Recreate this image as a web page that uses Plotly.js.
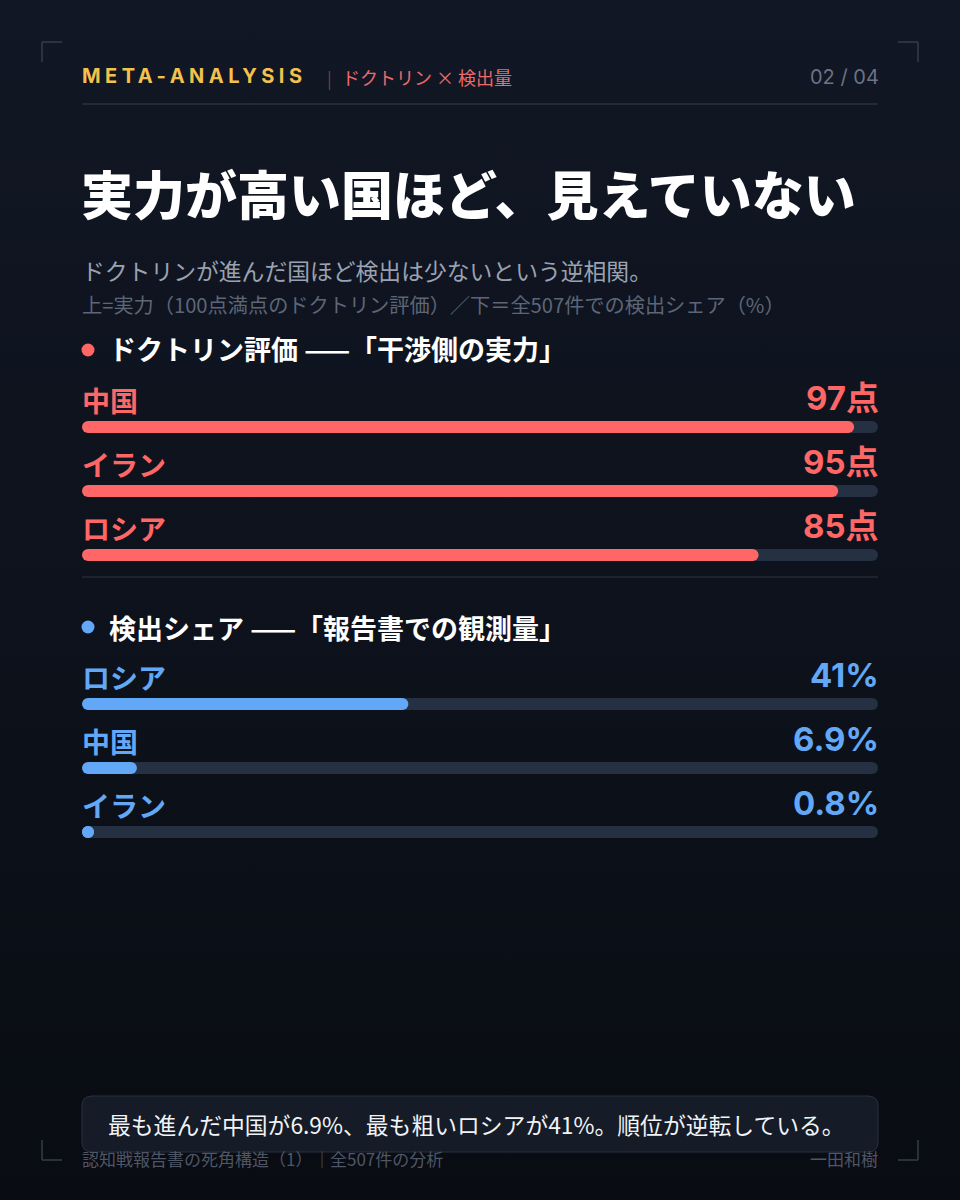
<!DOCTYPE html>
<html><head><meta charset="utf-8">
<script src="https://cdn.plot.ly/plotly-3.0.1.min.js"></script>
<style>
html,body{margin:0;padding:0;width:960px;height:1200px;overflow:hidden;
background:linear-gradient(180deg,#111724 0%,#0d121c 50%,#090c12 100%);}
#chart{width:960px;height:1200px;}
</style></head>
<body><div id="chart"></div>
<script>
// ---- data ----
const doctrineCountries = ['中国', 'イラン', 'ロシア'];
const doctrineScores = [97, 95, 85];
const doctrineUnit = '点';
const shareCountries = ['ロシア', '中国', 'イラン'];
const shareValues = [41, 6.9, 0.8];
const shareUnit = '%';
const scaleMax = 100;

const headerLabel = 'META-ANALYSIS';
const headerTopic = 'ドクトリン × 検出量';
const pageLabel = '02 / 04';
const titleText = '実力が高い国ほど、見えていない';
const subtitleText = 'ドクトリンが進んだ国ほど検出は少ないという逆相関。';
const noteText = '上=実力（100点満点のドクトリン評価）／下＝全507件での検出シェア（%）';
const section1Title = 'ドクトリン評価 ——「干渉側の実力」';
const section2Title = '検出シェア ——「報告書での観測量」';
const calloutText = '最も進んだ中国が6.9%、最も粗いロシアが41%。順位が逆転している。';
const footerLeft = '認知戦報告書の死角構造（1）';
const footerMid = '全507件の分析';
const footerRight = '一田和樹';

// ---- styles ----
const W = 960, H = 1200;
const RED = '#ff6666', BLUE = '#62a8f7', TRACK = '#263043';
const JP = '"Noto Sans CJK JP", sans-serif';
const NUM = 'Inter, "Noto Sans CJK JP", sans-serif';
const px = x => x / W;
const py = y => 1 - y / H;
const PLOT_L = 82, PLOT_R = 878, ROW = 64, BAR_PX = 12;
const BARW = BAR_PX / ROW;
const rU = (BAR_PX / 2) / (PLOT_R - PLOT_L) * scaleMax; // cap radius in data units

const barTraces = [], capTraces = [];
function roundBar(cats, vals, color, yaxis, leftCap) {
  barTraces.push({type:'bar', orientation:'h', y:cats, base:cats.map(()=>rU),
    x:vals.map(v=>Math.max(v - 2*rU, 0)), width:BARW, yaxis:yaxis, xaxis:'x',
    marker:{color:color, line:{width:0}}, hoverinfo:'skip', showlegend:false});
  const cx = [], cy = [];
  cats.forEach((c,i)=>{
    if (leftCap) { cx.push(rU); cy.push(c); }
    cx.push(Math.max(vals[i]-rU, rU)); cy.push(c);
  });
  capTraces.push({type:'scatter', mode:'markers', x:cx, y:cy, yaxis:yaxis, xaxis:'x',
    marker:{color:color, size:BAR_PX, line:{width:0}}, hoverinfo:'skip', showlegend:false, cliponaxis:false});
}
function addSection(cats, vals, color, yaxis) {
  roundBar(cats, cats.map(()=>scaleMax), TRACK, yaxis, false);
  roundBar(cats, vals, color, yaxis, true);
}
addSection(doctrineCountries, doctrineScores, RED, 'y');
addSection(shareCountries, shareValues, BLUE, 'y2');
const traces = barTraces.concat(capTraces);

const ann = [];
function txt(text, x, y, size, color, opts) {
  ann.push(Object.assign({text:text, xref:'paper', yref:'paper', x:px(x), y:py(y),
    xanchor:'left', yanchor:'middle', showarrow:false,
    font:{family:JP, size:size, color:color}}, opts||{}));
}
function rowLabels(cats, vals, unit, color, yref) {
  cats.forEach((c,i)=>{
    ann.push({text:c, xref:'x', yref:yref, x:0, y:i, yshift:27, xshift:-2, xanchor:'left', yanchor:'middle',
      showarrow:false, font:{family:JP, size:28, color:color, weight:700}});
    ann.push({text:vals[i]+unit, xref:'x', yref:yref, x:scaleMax, y:i, yshift:29, xshift:3, xanchor:'right', yanchor:'middle',
      showarrow:false, font:{family:NUM, size:33, color:color, weight:700}});
  });
}
rowLabels(doctrineCountries, doctrineScores, doctrineUnit, RED, 'y');
rowLabels(shareCountries, shareValues, shareUnit, BLUE, 'y2');

txt(headerLabel, 80, 76, 20, '#f2c14e', {font:{family:NUM, size:20, color:'#f2c14e', weight:700}});
txt('|', 325, 77, 17, '#8a3a44');
txt(headerTopic, 340, 77, 18, '#ee6a6a');
txt(pageLabel, 881, 77, 20, '#6b7384', {xanchor:'right', font:{family:NUM, size:20, color:'#6b7384'}});
txt(titleText, 79, 192, 52, '#ffffff', {font:{family:JP, size:52, color:'#ffffff', weight:900}});
txt(subtitleText, 80, 270, 22.8, '#9aa2b1');
txt(noteText, 80, 304, 20.2, '#5d6677');
txt(section1Title, 107, 349, 27, '#ffffff', {font:{family:JP, size:27, color:'#ffffff', weight:700}});
txt(section2Title, 107, 627, 27, '#ffffff', {font:{family:JP, size:27, color:'#ffffff', weight:700}});
txt(calloutText, 476, 1124, 22.8, '#f1f3f6', {xanchor:'center'});
txt(footerLeft, 80, 1158, 17, '#4e5667');
txt('|', 318, 1157, 15, '#3c4454');
txt(footerMid, 328, 1158, 17, '#4e5667');
txt(footerRight, 880, 1158, 17, '#4e5667', {xanchor:'right'});

const shapes = [];
function line(x0,y0,x1,y1,color,w){shapes.push({type:'line',xref:'paper',yref:'paper',
  x0:px(x0),y0:py(y0),x1:px(x1),y1:py(y1),line:{color:color,width:w}});}
const BR = '#353d4c';
line(42,42,62,42,BR,1.5); line(42,42,42,62,BR,1.5);
line(898,42,918,42,BR,1.5); line(918,42,918,62,BR,1.5);
line(42,1140,42,1160,BR,1.5); line(42,1160,62,1160,BR,1.5);
line(918,1140,918,1160,BR,1.5); line(898,1160,918,1160,BR,1.5);
line(82,104,878,104,'#2a3242',1.5);
line(82,577,878,577,'#222a37',1.5);
function dot(cx,cy,r,color){shapes.push({type:'circle',xref:'paper',yref:'paper',
  x0:px(cx-r),x1:px(cx+r),y0:py(cy-r),y1:py(cy+r),fillcolor:color,line:{width:0}});}
dot(88,350,6.5,RED); dot(88,627,6.5,BLUE);
(function(){
  const x0=82,x1=878,y0=1096,y1=1152,r=10;
  const P=(x,y)=>px(x)+','+py(y);
  const path='M'+P(x0+r,y0)+' L'+P(x1-r,y0)+' Q'+P(x1,y0)+' '+P(x1,y0+r)+
    ' L'+P(x1,y1-r)+' Q'+P(x1,y1)+' '+P(x1-r,y1)+' L'+P(x0+r,y1)+' Q'+P(x0,y1)+' '+P(x0,y1-r)+
    ' L'+P(x0,y0+r)+' Q'+P(x0,y0)+' '+P(x0+r,y0)+' Z';
  shapes.unshift({type:'path',xref:'paper',yref:'paper',path:path,fillcolor:'#151b27',
    line:{color:'#283041',width:1},layer:'below'});
})();

const layout = {
  width:W, height:H, margin:{l:0,r:0,t:0,b:0},
  paper_bgcolor:'rgba(0,0,0,0)', plot_bgcolor:'rgba(0,0,0,0)',
  barmode:'overlay', showlegend:false,
  xaxis:{domain:[px(PLOT_L),px(PLOT_R)], range:[0,scaleMax], visible:false, fixedrange:true},
  yaxis:{domain:[py(587),py(395)], type:'category', categoryarray:doctrineCountries,
    range:[2.5,-0.5], visible:false, fixedrange:true},
  yaxis2:{domain:[py(864),py(672)], type:'category', categoryarray:shareCountries,
    range:[2.5,-0.5], visible:false, fixedrange:true, anchor:'x'},
  annotations:ann, shapes:shapes
};
Plotly.newPlot('chart', traces, layout, {displayModeBar:false, staticPlot:true}).then(()=>{
  document.querySelectorAll('.annotation-text').forEach(t=>{
    if (t.textContent === headerLabel) {
      const b0 = t.getBBox();
      const target = 220;
      const sp = (target - b0.width) / (headerLabel.length - 1);
      t.setAttribute('letter-spacing', sp.toFixed(2) + 'px');
      const b1 = t.getBBox();
      const x = parseFloat(t.getAttribute('x') || '0');
      t.setAttribute('x', (x + (b0.x - b1.x)).toFixed(2));
    }
  });
});
</script></body></html>
